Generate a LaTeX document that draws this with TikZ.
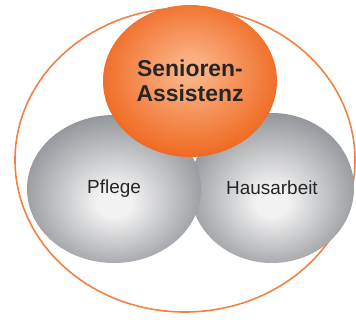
\documentclass[tikz,border=0pt]{standalone}
\usepackage{fontspec}
\setmainfont{Liberation Sans}
\usetikzlibrary{shapes.geometric}
\definecolor{rand}{RGB}{240,130,68}
\definecolor{schrift}{RGB}{38,38,38}
\definecolor{grauhell}{RGB}{242,242,242}
\definecolor{graudunkel}{RGB}{136,139,144}
\definecolor{orangehell}{RGB}{250,176,130}
\definecolor{orangedunkel}{RGB}{240,108,38}
\pgfdeclareradialshading{grauekugel}{\pgfpoint{0bp}{-5bp}}{color(0bp)=(grauhell); color(5bp)=(grauhell); color(30bp)=(graudunkel); color(50bp)=(graudunkel)}
\pgfdeclareradialshading{orangekugel}{\pgfpoint{0bp}{4bp}}{color(0bp)=(orangehell); color(4bp)=(orangehell); color(26bp)=(orangedunkel); color(50bp)=(orangedunkel)}
\begin{document}
\begin{tikzpicture}[x=1bp,y=1bp,
  kugel/.style={ellipse,inner sep=0pt,text=schrift,align=center},
  grau/.style={kugel,shading=grauekugel,font=\fontsize{19}{22}\selectfont},
  orange/.style={kugel,shading=orangekugel,font=\bfseries\fontsize{23}{25}\selectfont}]
  \useasboundingbox (0,0) rectangle (356,320);
  % Rahmen
  \node[ellipse,draw=rand,line width=1.6bp,minimum width=340bp,minimum height=304bp] (rahmen) at (185,160) {};
  % Kugeln
  \node[grau,minimum width=164bp,minimum height=150bp] (haus) at (272,132) {Hausarbeit};
  \node[grau,minimum width=174bp,minimum height=148bp] (pflege) at (114,131) {Pflege};
  \node[orange,minimum width=174bp,minimum height=152bp] (senior) at (190,239) {Senioren-\\Assistenz};
\end{tikzpicture}
\end{document}
